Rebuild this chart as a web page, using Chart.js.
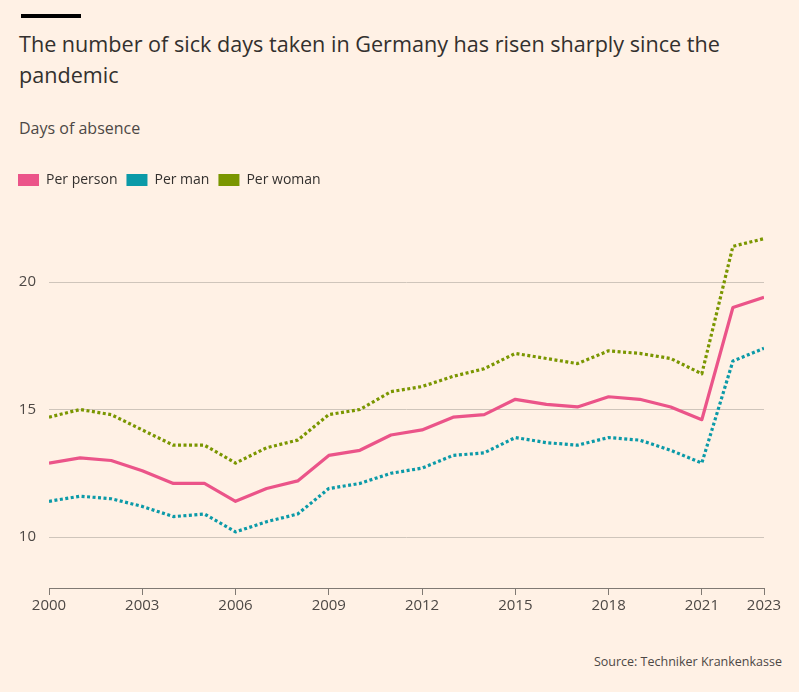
<!DOCTYPE html>
<html>
<head>
<meta charset="utf-8">
<script src="https://cdn.jsdelivr.net/npm/chart.js@4"></script>
<style>
  html, body { margin: 0; padding: 0; }
  body { width: 799px; height: 692px; background: #fff1e5; position: relative; overflow: hidden; font-family: "Open Sans", sans-serif; color: #33302e; }
  .bar { position: absolute; left: 21px; top: 14px; width: 60px; height: 4px; background: #000; }
  .title { position: absolute; left: 19px; top: 28px; font-size: 21.6px; line-height: 31px; }
  .sub { position: absolute; left: 19px; top: 117px; font-size: 16px; color: #4d4845; }
  .src { position: absolute; right: 17px; top: 653px; font-size: 12.5px; color: #4d4845; }
  #wrap { position: absolute; left: 0; top: 160px; width: 799px; height: 458px; }
</style>
</head>
<body>
<div class="bar"></div>
<div class="title">The number of sick days taken in Germany has risen sharply since the<br>pandemic</div>
<div class="sub">Days of absence</div>
<div class="src">Source: Techniker Krankenkasse</div>
<div id="wrap"><canvas id="myChart"></canvas></div>
<script>
const years = [2000, 2001, 2002, 2003, 2004, 2005, 2006, 2007, 2008, 2009, 2010, 2011,
               2012, 2013, 2014, 2015, 2016, 2017, 2018, 2019, 2020, 2021, 2022, 2023];

// 日数（1人あたり）
const perPerson = [12.9, 13.1, 13.0, 12.6, 12.1, 12.1, 11.4, 11.9, 12.2, 13.2, 13.4, 14.0,
                   14.2, 14.7, 14.8, 15.4, 15.2, 15.1, 15.5, 15.4, 15.1, 14.6, 19.0, 19.4];
const perMan = [11.4, 11.6, 11.5, 11.2, 10.8, 10.9, 10.2, 10.6, 10.9, 11.9, 12.1, 12.5,
                12.7, 13.2, 13.3, 13.9, 13.7, 13.6, 13.9, 13.8, 13.4, 12.9, 16.9, 17.4];
const perWoman = [14.7, 15.0, 14.8, 14.2, 13.6, 13.6, 12.9, 13.5, 13.8, 14.8, 15.0, 15.7,
                  15.9, 16.3, 16.6, 17.2, 17.0, 16.8, 17.3, 17.2, 17.0, 16.4, 21.4, 21.7];

const xTicks = [2000, 2003, 2006, 2009, 2012, 2015, 2018, 2021, 2023];
const yTicks = [10, 15, 20];

const toPoints = (vals) => vals.map((v, i) => ({ x: years[i], y: v }));

const ctx = document.getElementById('myChart').getContext('2d');

// 凡例の下に余白を追加
const legendMargin = {
    id: 'legendMargin',
    beforeInit(chart) {
        const fit = chart.legend.fit;
        chart.legend.fit = function () {
            fit.bind(chart.legend)();
            this.height = 67;
        };
    }
};

const data = {
    datasets: [
        {
            label: 'Per person',
            data: toPoints(perPerson),
            borderColor: '#eb5489',
            backgroundColor: '#eb5489',
            borderWidth: 3.2,
        },
        {
            label: 'Per man',
            data: toPoints(perMan),
            borderColor: '#0b9aa8',
            backgroundColor: '#0b9aa8',
            borderWidth: 3.2,
            borderDash: [3, 2.5],
        },
        {
            label: 'Per woman',
            data: toPoints(perWoman),
            borderColor: '#7a9600',
            backgroundColor: '#7a9600',
            borderWidth: 3.2,
            borderDash: [3, 2.5],
        }
    ]
};

const config = {
    type: 'line',
    data: data,
    plugins: [legendMargin],
    options: {
        responsive: true,
        maintainAspectRatio: false,
        animation: false,
        layout: { padding: { left: 9, right: 35, top: 4, bottom: 0 } },
        elements: {
            point: { radius: 0 },
            line: { tension: 0, borderJoinStyle: 'round' }
        },
        scales: {
            x: {
                type: 'linear',
                min: 2000,
                max: 2023,
                afterBuildTicks: (scale) => { scale.ticks = xTicks.map(v => ({ value: v })); },
                afterFit: (scale) => { scale.height = 30; },
                grid: {
                    drawOnChartArea: false,
                    drawTicks: true,
                    tickLength: 7,
                    tickColor: '#807973'
                },
                border: { display: true, color: '#807973', width: 1 },
                ticks: {
                    callback: (v) => String(v),
                    color: '#4d4845',
                    font: { family: 'Open Sans', size: 15 },
                    padding: 2,
                    maxRotation: 0
                }
            },
            y: {
                min: 8,
                max: 22,
                afterBuildTicks: (scale) => { scale.ticks = yTicks.map(v => ({ value: v })); },
                afterFit: (scale) => { scale.width = 40; },
                grid: {
                    color: '#cfc5bb',
                    drawTicks: false
                },
                border: { display: false },
                ticks: {
                    color: '#4d4845',
                    font: { family: 'Open Sans', size: 15 },
                    padding: 13
                }
            }
        },
        plugins: {
            legend: {
                position: 'top',
                align: 'start',
                labels: {
                    boxWidth: 21,
                    boxHeight: 12,
                    padding: 9,
                    color: '#33302e',
                    font: { family: 'Open Sans', size: 14 },
                    // 凡例は塗りつぶしの四角にする
                    generateLabels: (chart) => {
                        const items = Chart.defaults.plugins.legend.labels.generateLabels(chart);
                        items.forEach(it => { it.lineDash = []; it.lineWidth = 0; });
                        return items;
                    }
                }
            },
            tooltip: { enabled: false }
        }
    }
};

const myChart = new Chart(ctx, config);
</script>
</body>
</html>
